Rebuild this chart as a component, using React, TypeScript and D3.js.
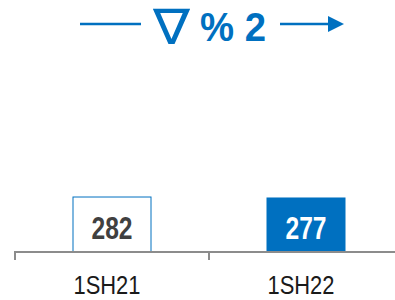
import React from "react";
import * as d3 from "d3";

const categories = ["1SH21", "1SH22"];
const values = [282, 277];
const titleSymbol = "∇";
const titleText = "% 2";

const W = 395;
const H = 300;
const BLUE = "#0070C0";

export default function App() {
  const x = d3.scaleBand<string>().domain(categories).range([15, 403]).paddingInner(0).paddingOuter(0);
  const y = d3.scaleLinear().domain([0, 1000]).range([251.5, 56.5]);
  const barW = 79;
  return (
    <svg width={W} height={H} style={{ position: "absolute", left: 0, top: 0 }}>
      <rect x={0} y={0} width={W} height={H} fill="#fff" />
      {/* title */}
      <line x1={80} x2={141} y1={24} y2={24} stroke={BLUE} strokeWidth={2.5} />
      <text x={153} y={44} fontFamily="Liberation Sans, DejaVu Sans" fontSize={49} fill={BLUE} textLength={37} lengthAdjust="spacingAndGlyphs">{titleSymbol}</text>
      <text x={200} y={41} fontFamily="Liberation Sans, Arial" fontWeight="bold" fontSize={40} fill={BLUE} textLength={66} lengthAdjust="spacingAndGlyphs">{titleText}</text>
      <line x1={280} x2={330} y1={24} y2={24} stroke={BLUE} strokeWidth={2.5} />
      <path d="M328,16 L344,24 L328,32 Z" fill={BLUE} />
      {/* bars */}
      {categories.map((c, i) => {
        const cx = (x(c) as number) + x.bandwidth() / 2;
        const top = y(values[i]);
        const bottom = y(0);
        return (
          <g key={c}>
            {i === 0 ? (
              <rect x={cx - barW / 2 + 0.5} y={top + 0.5} width={barW - 1} height={bottom - top - 0.5} fill="#fff" stroke={BLUE} strokeWidth={1} />
            ) : (
              <rect x={cx - barW / 2} y={top} width={barW} height={bottom - top} fill={BLUE} />
            )}
            <text x={cx} y={239} textAnchor="middle" fontFamily="Liberation Sans, Arial" fontWeight="bold" fontSize={31} fill={i === 0 ? "#404040" : "#fff"} textLength={41} lengthAdjust="spacingAndGlyphs">{values[i]}</text>
            <text x={cx - 5} y={294} textAnchor="middle" fontFamily="Liberation Sans, Arial" fontSize={25} fill="#1a1a1a" textLength={67} lengthAdjust="spacingAndGlyphs">{c}</text>
          </g>
        );
      })}
      {/* axis */}
      <line x1={15} x2={W} y1={252} y2={252} stroke="#8c8c8c" strokeWidth={2} />
      {[0, 1].map((i) => {
        const xx = Math.round(x(categories[i]) as number);
        return <line key={i} x1={xx} x2={xx} y1={251} y2={260} stroke="#8c8c8c" strokeWidth={2} />;
      })}
    </svg>
  );
}
